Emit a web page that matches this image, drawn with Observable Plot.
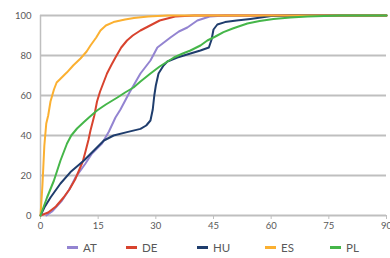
<!DOCTYPE html>
<html>
<head>
<meta charset="utf-8">
<script src="https://cdn.jsdelivr.net/npm/d3@7"></script>
<script src="https://cdn.jsdelivr.net/npm/@observablehq/plot@0.6"></script>
<style>
  html, body { margin: 0; padding: 0; background: #fff; }
  body { width: 390px; height: 258px; overflow: hidden; font-family: Lato, "Open Sans", sans-serif; }
  #legend { position: relative; height: 22px; width: 390px; }
  .item { position: absolute; top: 0; height: 22px; display: flex; align-items: center; font-size: 11.5px; color: #595959; }
  .sw { display: inline-block; width: 11px; height: 3px; margin-right: 5px; }
</style>
</head>
<body>
<div id="chart"></div>
<div id="legend"></div>
<script>
const seriesNames = ["AT", "DE", "HU", "ES", "PL"];
const seriesColors = ["#9384d1", "#d8432e", "#1f3d6d", "#fbb031", "#45b649"];

const AT = [[1.5,0],[3,2],[5.6,7.5],[7.5,13],[9.1,19],[11.7,26],[13.4,31],[16,36],[17.8,42],[19.5,49],[20.8,53],[23,61],[26,71],[28.6,77.5],[30.4,84],[33.8,89],[36,92],[38.2,94],[40.8,97.5],[44,99.5],[48,100],[90,100]];
const DE = [[0,0],[2,1.5],[4,4.5],[6,9],[7.5,13],[9,18],[10,22.5],[11,27],[11.7,32],[12.5,38],[13,42.5],[14,50],[14.7,57],[15.5,62],[16.5,67],[17.3,71],[18.5,75.5],[19.5,79],[21,84],[22.5,87.5],[24,90],[26,92.5],[28,94.5],[31,97.5],[35,99.5],[40,100],[90,100]];
const HU = [[0,0],[1,4],[2.6,9],[5.2,16],[7.8,21.7],[11.3,27.5],[13.9,32.5],[16.5,37.5],[19,40],[22.5,41.7],[26,43.3],[27.5,45],[28.6,47.5],[29.2,53],[29.6,60],[30,65],[30.7,71],[32,75],[33,77],[35.6,79],[39,81],[41.6,82.5],[43.8,84],[44.5,88],[45,93],[46,95.5],[48,96.7],[51,97.5],[54.6,98.3],[60,99.7],[65,100],[90,100]];
const ES = [[0,0],[0.5,15],[1,35],[1.5,46],[2,50],[2.6,57],[3.5,63],[4.2,66.5],[5,68],[6.9,71.6],[8.5,75],[10.4,78.5],[12,82],[13,85],[14.5,89],[15.6,92.5],[17,95],[19,96.7],[22,98],[24.3,98.8],[28,99.5],[33,100],[90,100]];
const PL = [[0,0],[1.7,9],[3.5,17.5],[5.2,27.5],[6.9,36],[8,40],[9.5,43.5],[11.3,46.7],[12.6,49],[14.7,52.5],[17,55.5],[20,59],[22,61.5],[24.2,64],[26,67],[28.6,71],[31,74.5],[34.7,79],[37,81],[39,82.5],[41.6,85],[43.4,87.5],[45.5,89.5],[47.6,91.7],[50,93.5],[53.8,96],[57,97.3],[60.6,98.3],[65,99],[69.4,99.5],[78,100],[90,100]];

const xTicks = [0, 15, 30, 45, 60, 75, 90];
const yTicks = [0, 20, 40, 60, 80, 100];
const gridLines = [20, 40, 60, 80, 100];

const seriesData = {AT, DE, HU, ES, PL};
const rows = [];
for (const name of seriesNames) {
  for (const [x, y] of seriesData[name]) rows.push({series: name, x, y});
}

const font = "Lato, 'Open Sans', sans-serif";
const chart = Plot.plot({
  width: 390,
  height: 236,
  marginLeft: 40,
  marginRight: 4,
  marginTop: 15,
  marginBottom: 21,
  style: {fontFamily: font, fontSize: "9.5px", color: "#595959", background: "#fff"},
  x: {domain: [0, 90]},
  y: {domain: [0, 100]},
  color: {domain: seriesNames, range: seriesColors},
  marks: [
    Plot.ruleY(gridLines, {stroke: "#bfbfbf", strokeWidth: 2}),
    Plot.ruleX([0], {stroke: "#bfbfbf", strokeWidth: 1.5}),
    Plot.ruleY([0], {stroke: "#bfbfbf", strokeWidth: 2}),
    Plot.axisX({ticks: xTicks, tickSize: 4, tickPadding: 3, stroke: "#bfbfbf", label: null, fill: "#595959"}),
    Plot.axisY({ticks: yTicks, tickSize: 0, tickPadding: 9, label: null, fill: "#595959"}),
    Plot.line(rows, {x: "x", y: "y", z: "series", stroke: "series", strokeWidth: 2, strokeLinejoin: "round"})
  ]
});
document.getElementById("chart").appendChild(chart);

const legendX = [67, 126, 197, 265, 330];
const legend = document.getElementById("legend");
seriesNames.forEach((name, i) => {
  const item = document.createElement("div");
  item.className = "item";
  item.style.left = legendX[i] + "px";
  const sw = document.createElement("span");
  sw.className = "sw";
  sw.style.background = seriesColors[i];
  item.appendChild(sw);
  item.appendChild(document.createTextNode(name));
  legend.appendChild(item);
});
</script>
</body>
</html>
